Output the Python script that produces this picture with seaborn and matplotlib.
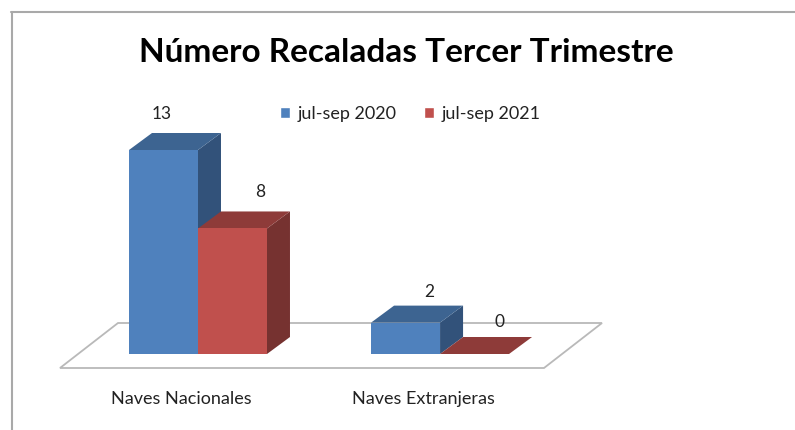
import matplotlib
matplotlib.use("Agg")
import matplotlib.pyplot as plt
import pandas as pd
import seaborn as sns
from matplotlib.lines import Line2D
from matplotlib.patches import Polygon
from matplotlib.transforms import ScaledTranslation

categorias = ["Naves Nacionales", "Naves Extranjeras"]
periodos = ["jul-sep 2020", "jul-sep 2021"]
valores_2020 = [13, 2]
valores_2021 = [8, 0]

W, H = 795, 430
sns.set_theme(style="white")
plt.rcParams["font.family"] = ["Lato", "DejaVu Sans"]

df = pd.DataFrame({
    "Categoria": categorias * 2,
    "Periodo": [periodos[0]] * 2 + [periodos[1]] * 2,
    "Valor": valores_2020 + valores_2021,
})

colores = {periodos[0]: "#4f81bd", periodos[1]: "#c0504d"}
techo = ["#3d6491", "#8e3b39"]
lado = ["#32527a", "#763230"]

fig = plt.figure(figsize=(W / 100, H / 100), dpi=100)
ax = fig.add_axes([60 / W, (H - 354) / H, 542 / W, 204 / H])

sns.barplot(data=df, x="Categoria", y="Valor", hue="Periodo", palette=colores,
            width=0.57, saturation=1, ax=ax)

ax.set_xlim(-0.570, 1.669)
ax.set_ylim(0, 13)
ax.set_xlabel("")
ax.set_ylabel("")
ax.set_yticks([])
ax.tick_params(axis="x", length=0, pad=26.5, labelsize=13, labelcolor="#222222")
sns.despine(ax=ax, left=True, bottom=True)

# Etiquetas del eje corridas a la izquierda, como en el grafico 3D
corrimiento = ScaledTranslation(-17 / 100, 0, fig.dpi_scale_trans)
for lab in ax.get_xticklabels():
    lab.set_transform(lab.get_transform() + corrimiento)

# Piso del grafico
piso = [(60, 368), (544, 368), (602, 323), (118, 323)]
ax.add_patch(Polygon([(x / W, 1 - y / H) for x, y in piso], closed=True, fc="white",
                     ec="#b9b9b9", lw=1.3, transform=fig.transFigure, clip_on=False, zorder=0.5))

# Profundidad 3D a partir de las barras de seaborn
prof_x = 23 / 242
prof_y = 17 / (204 / 13)
offsets = [[(-2, 36), (24, 31)], [(28, 36), (25, 32)]]

for i, cont in enumerate(ax.containers):
    for j, bar in enumerate(cont):
        x0 = bar.get_x()
        x1 = x0 + bar.get_width()
        h = bar.get_height()
        z = 2 + i + j * 3
        bar.set_zorder(z + 0.2)
        bar.set_linewidth(0)
        ax.add_patch(Polygon([(x1, 0), (x1 + prof_x, prof_y), (x1 + prof_x, h + prof_y), (x1, h)],
                             closed=True, fc=lado[i], lw=0, clip_on=False, zorder=z))
        ax.add_patch(Polygon([(x0, h), (x1, h), (x1 + prof_x, h + prof_y), (x0 + prof_x, h + prof_y)],
                             closed=True, fc=techo[i], lw=0, clip_on=False, zorder=z + 0.1))
        ax.annotate(f"{h:.0f}", xy=(x0 + bar.get_width() / 2, h), xytext=offsets[i][j],
                    textcoords="offset pixels", ha="center", va="center",
                    fontsize=12.5, color="#222222", annotation_clip=False, zorder=20)

ax.legend(loc="center left", bbox_to_anchor=(280 / W, 1 - 113.5 / H), bbox_transform=fig.transFigure,
          ncols=2, frameon=False, title=None, fontsize=13, handlelength=0.55, handleheight=0.55,
          handletextpad=0.42, columnspacing=1.53, labelcolor="#222222", borderpad=0, borderaxespad=0)

fig.text(406 / W, 1 - 53 / H, "Número Recaladas Tercer Trimestre", ha="center", va="center",
         fontsize=24, fontweight="bold", color="black")

# Borde del recuadro
fig.add_artist(Line2D([11.5 / W, 11.5 / W], [0, 1 - 12 / H], color="#a9a9a9", lw=1.5))
fig.add_artist(Line2D([11 / W, 1], [1 - 12 / H, 1 - 12 / H], color="#a9a9a9", lw=1.5))

fig.savefig("out.png", dpi=100, facecolor="white")
plt.close(fig)
